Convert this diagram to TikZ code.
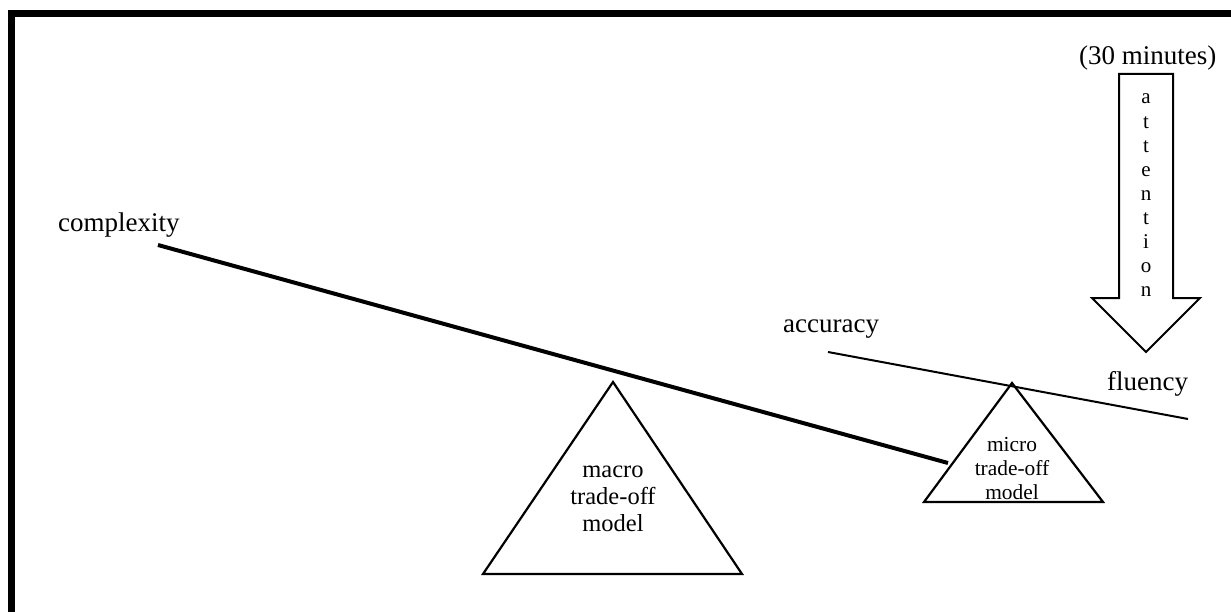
\documentclass[tikz,border=0pt]{standalone}
\usepackage{fontspec}
\setmainfont{Liberation Serif}
\begin{document}
\begin{tikzpicture}[x=1pt,y=-1pt,
  lbl/.style={inner sep=0pt,anchor=base west,font=\fontsize{27}{32}\selectfont},
  macrotxt/.style={inner sep=0pt,anchor=base,font=\fontsize{24.5}{27}\selectfont},
  microtxt/.style={inner sep=0pt,anchor=base,font=\fontsize{21.4}{24}\selectfont},
  lettxt/.style={inner sep=0pt,anchor=base,font=\fontsize{21}{24}\selectfont},
  tri/.style={draw,line width=2.2pt,line join=miter},
  beamthick/.style={line width=4pt},
  beamthin/.style={line width=2pt},
  framel/.style={line width=7pt}]
\useasboundingbox (0,0) rectangle (1231,612);
% frame
\draw[framel] (11.5,612) -- (11.5,13.5) -- (1231,13.5);
% macro triangle
\draw[tri] (613,382) -- (742,574) -- (483,574) -- cycle;
\node[macrotxt] (ma1) at (613,477.5) {macro};
\node[macrotxt] (ma2) at (613,504.5) {trade-off};
\node[macrotxt] (ma3) at (613,531.5) {model};
% micro triangle
\draw[tri] (1012,383) -- (1103,502) -- (924,502) -- cycle;
\node[microtxt] (mi1) at (1012,451) {micro};
\node[microtxt] (mi2) at (1012,475) {trade-off};
\node[microtxt] (mi3) at (1012,499) {model};
% beams
\coordinate (c1) at (158,245);
\coordinate (c2) at (948,463);
\draw[beamthick] (c1) -- (c2);
\coordinate (a1) at (828,352);
\coordinate (a2) at (1188,419);
\draw[beamthin] (a1) -- (a2);
% labels
\node[lbl] (complexity) at (58,232) {complexity};
\node[lbl] (accuracy) at (783,332) {accuracy};
\node[lbl] (fluency) at (1107,390) {fluency};
\node[lbl] (minutes) at (1079,65) {(30 minutes)};
% attention arrow
\draw[line width=2pt,line join=miter] (1119,74) -- (1173,74) -- (1173,298) -- (1200,298) -- (1146,352) -- (1092,298) -- (1119,298) -- cycle;
\foreach \ch [count=\i from 0] in {a,t,t,e,n,t,i,o,n} {
  \node[lettxt] (att\i) at (1146,104+24.1*\i) {\ch};
}
\end{tikzpicture}
\end{document}
